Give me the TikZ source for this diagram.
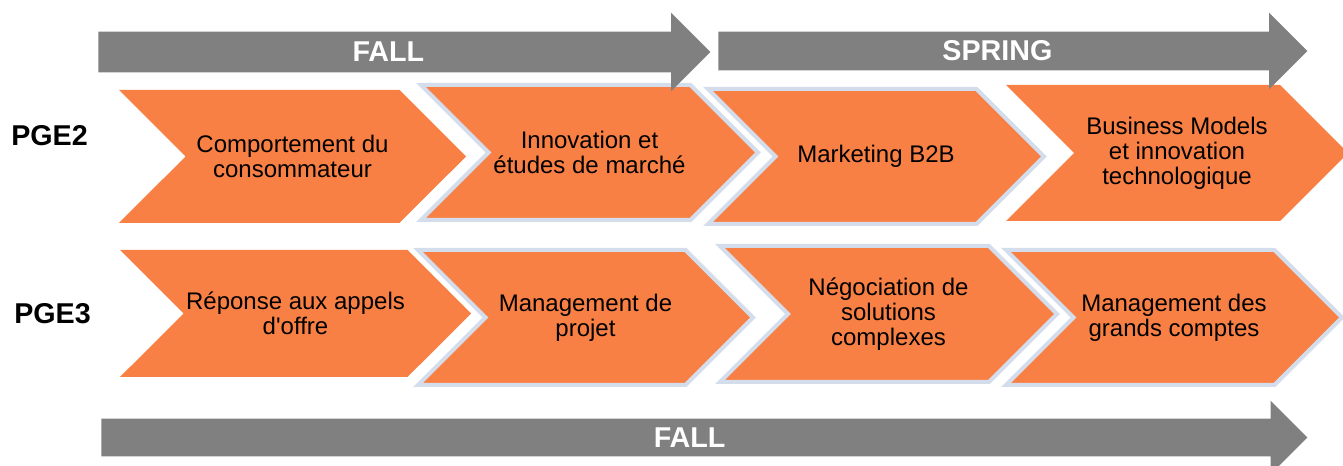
\documentclass[tikz,border=0pt]{standalone}
\usepackage{fontspec}
\setmainfont{Liberation Sans}
\usetikzlibrary{shapes,arrows}
\usetikzlibrary{shapes.symbols,shapes.arrows,positioning,calc}

\definecolor{courseorange}{RGB}{249,128,69}
\definecolor{termgrey}{RGB}{128,128,128}
\definecolor{courseborder}{RGB}{212,221,236}
\newcommand{\px}{0.75pt}

\begin{document}
\begin{tikzpicture}[x=0.75pt, y=-0.75pt, align=center, node distance=243*\px]

%local definitions
\tikzstyle{Course} = [signal, signal from=west, signal to=east, signal pointer angle=90, fill=courseorange, inner sep=0pt, font=\fontsize{18}{18.75}\selectfont]
\tikzstyle{Framed} = [draw=courseborder, line width=4*\px]
\tikzstyle{Term} = [single arrow, fill=termgrey, inner xsep=0pt]
\tikzstyle{TermName} = [text=white, font=\bfseries\fontsize{21.5}{24}\selectfont]
\tikzstyle{Level} = [font=\bfseries\fontsize{21.5}{24}\selectfont]

\useasboundingbox (0,0) rectangle (1343,466);

%first year courses
	\node [Course, minimum width=347*\px, minimum height=133*\px] (c1) at (292.5,156.5) {Comportement du\\consommateur};
	\node [Course, Framed, minimum width=337*\px, minimum height=135*\px] (c2) at (589.5,152.5) {Innovation et\\études de marché};
	\node [Course, Framed, minimum width=336*\px, minimum height=135*\px] (c3) at (876,156.5) {Marketing B2B};
	\node [Course, minimum width=342*\px, minimum height=136*\px] (c4) at (1177,153) {Business Models\\et innovation\\technologique};

%second year courses
	\node [Course, minimum width=351*\px, minimum height=127*\px] (r1) at (295.5,313.5) {Réponse aux appels\\d\textquotesingle offre};
	\node [Course, Framed, minimum width=335*\px, minimum height=135*\px] (r2) at (585.5,317.5) {Management de\\projet};
	\node [Course, Framed, minimum width=337*\px, minimum height=136*\px] (r3) at (888.5,314) {Négociation de\\solutions\\complexes};
	\node [Course, Framed, minimum width=336*\px, minimum height=135*\px] (r4) at (1174,317.5) {Management des\\grands comptes};

%row names
	\node [Level, left of=c1, yshift=21*\px] (pge2) {PGE2};
	\node [Level, left of=r1] (pge3) {PGE3};

%terms
	\node [Term, minimum height=612*\px, inner ysep=20*\px, single arrow head extend=19*\px, anchor=tail] (fallTop) at (98,52) {};
	\node [Term, minimum height=589*\px, inner ysep=19*\px, single arrow head extend=19*\px, anchor=tail] (spring) at (718,51) {};
	\node [Term, minimum height=1206*\px, inner ysep=18.5*\px, single arrow head extend=18*\px, anchor=tail] (fallBottom) at (101,437.5) {};

	%term names
	\node [TermName] (fallTopName) at ($(fallTop.tail)!0.5!(fallTop.tail -| fallTop.before head)+(4,0)$) {FALL};
	\node [TermName] (springName) at ($(spring.tail)!0.5!(spring.tail -| spring.before head)+(4,0)$) {SPRING};
	\node [TermName] (fallBottomName) at ($(fallBottom.tail)!0.5!(fallBottom.tail -| fallBottom.before head)+(4,0)$) {FALL};

\end{tikzpicture}
\end{document}
